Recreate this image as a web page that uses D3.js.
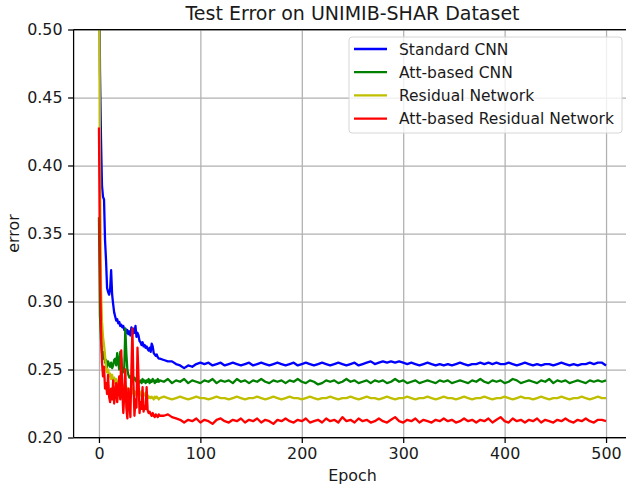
<!DOCTYPE html>
<html lang="en">
<head>
<meta charset="UTF-8">
<title>Test Error on UNIMIB-SHAR Dataset</title>
<script src="https://d3js.org/d3.v7.min.js"></script>
<style>
    body { margin: 0; background: #fff; }
    svg text { font-family: "DejaVu Sans", sans-serif; fill: #1a1a1a; }
    .grid line { stroke: #b0b0b0; stroke-width: 1.25; }
    .grid path { display: none; }
    .axis path, .axis line { stroke: #000; stroke-width: 1.25; }
    .axis text { font-size: 15.9px; }
</style>
</head>
<body>
<div id="chart"></div>
<script>
// epochs: every epoch up to 60, then every 4th epoch
var epochs = d3.range(0, 61).concat(d3.range(64, 501, 4));

var seriesNames = ["Standard CNN", "Att-based CNN", "Residual Network", "Att-based Residual Network"];
var seriesColors = ["#0000ff", "#008000", "#bfbf00", "#ff0000"];

var xTicks = [0, 100, 200, 300, 400, 500];
var yTicks = [0.20, 0.25, 0.30, 0.35, 0.40, 0.45, 0.50];

var standardCnn = [
    0.600, 0.470, 0.420, 0.385, 0.377, 0.375, 0.345, 0.330, 0.310, 0.307,
    0.305, 0.309, 0.323, 0.305, 0.298, 0.292, 0.289, 0.286, 0.287, 0.284,
    0.285, 0.282, 0.283, 0.281, 0.282, 0.279, 0.280, 0.277, 0.279, 0.276,
    0.278, 0.275, 0.281, 0.276, 0.280, 0.277, 0.282, 0.274, 0.277, 0.275,
    0.271, 0.270, 0.268, 0.270, 0.267, 0.268, 0.266, 0.267, 0.265, 0.264,
    0.266, 0.263, 0.269, 0.267, 0.262, 0.261, 0.260, 0.261, 0.259, 0.258,
    0.258,
    0.257, 0.256, 0.256, 0.254, 0.253, 0.251, 0.253, 0.252, 0.254, 0.255,
    0.254, 0.255, 0.253, 0.254, 0.255, 0.253, 0.254, 0.255, 0.254, 0.253,
    0.254, 0.255, 0.253, 0.254, 0.255, 0.254, 0.253, 0.254, 0.255, 0.254,
    0.253, 0.254, 0.255, 0.253, 0.254, 0.255, 0.254, 0.253, 0.254, 0.255,
    0.254, 0.253, 0.254, 0.255, 0.254, 0.253, 0.254, 0.255, 0.253, 0.254,
    0.255, 0.256, 0.254, 0.255, 0.256, 0.255, 0.256, 0.255, 0.256, 0.255,
    0.254, 0.255, 0.254, 0.253, 0.254, 0.255, 0.254, 0.253, 0.254, 0.253,
    0.254, 0.253, 0.254, 0.255, 0.254, 0.253, 0.254, 0.254, 0.255, 0.254,
    0.255, 0.254, 0.255, 0.254, 0.254, 0.255, 0.254, 0.253, 0.254, 0.255,
    0.254, 0.253, 0.254, 0.253, 0.254, 0.254, 0.253, 0.254, 0.255, 0.254,
    0.253, 0.254, 0.253, 0.254, 0.254, 0.255, 0.254, 0.255, 0.255, 0.253
];

var attCnn = [
    0.362, 0.290, 0.272, 0.262, 0.258, 0.263, 0.255, 0.257, 0.252, 0.256,
    0.254, 0.252, 0.255, 0.251, 0.253, 0.257, 0.258, 0.253, 0.262, 0.256,
    0.250, 0.263, 0.258, 0.249, 0.248, 0.252, 0.280, 0.262, 0.250, 0.246,
    0.244, 0.245, 0.243, 0.246, 0.242, 0.244, 0.243, 0.241, 0.242, 0.240,
    0.241, 0.242, 0.240, 0.243, 0.241, 0.242, 0.240, 0.242, 0.241, 0.243,
    0.240, 0.242, 0.241, 0.243, 0.242, 0.240, 0.242, 0.241, 0.243, 0.241,
    0.242,
    0.241, 0.243, 0.240, 0.242, 0.241, 0.243, 0.240, 0.242, 0.241, 0.240,
    0.242, 0.241, 0.243, 0.240, 0.242, 0.241, 0.242, 0.240, 0.243, 0.241,
    0.242, 0.240, 0.242, 0.241, 0.243, 0.241, 0.240, 0.242, 0.241, 0.242,
    0.240, 0.242, 0.241, 0.243, 0.241, 0.240, 0.242, 0.241, 0.239, 0.240,
    0.242, 0.241, 0.242, 0.240, 0.241, 0.243, 0.241, 0.242, 0.240, 0.241,
    0.242, 0.240, 0.242, 0.241, 0.242, 0.240, 0.241, 0.243, 0.241, 0.242,
    0.240, 0.241, 0.242, 0.240, 0.241, 0.242, 0.241, 0.240, 0.242, 0.241,
    0.242, 0.240, 0.241, 0.242, 0.241, 0.240, 0.242, 0.241, 0.243, 0.241,
    0.240, 0.242, 0.241, 0.242, 0.240, 0.241, 0.243, 0.242, 0.240, 0.241,
    0.242, 0.241, 0.240, 0.242, 0.241, 0.243, 0.240, 0.242, 0.241, 0.242,
    0.240, 0.241, 0.242, 0.241, 0.240, 0.242, 0.241, 0.242, 0.241, 0.242
];

var residualNet = [
    0.600, 0.400, 0.310, 0.285, 0.274, 0.268, 0.260, 0.252, 0.248, 0.250,
    0.245, 0.247, 0.243, 0.246, 0.242, 0.244, 0.240, 0.243, 0.239, 0.241,
    0.238, 0.240, 0.237, 0.239, 0.236, 0.238, 0.236, 0.237, 0.235, 0.236,
    0.234, 0.235, 0.233, 0.236, 0.232, 0.234, 0.233, 0.231, 0.235, 0.232,
    0.233, 0.231, 0.234, 0.230, 0.232, 0.231, 0.233, 0.230, 0.231, 0.229,
    0.230, 0.229, 0.230, 0.229, 0.228, 0.230, 0.229, 0.230, 0.229, 0.228,
    0.229,
    0.230, 0.229, 0.228, 0.229, 0.230, 0.229, 0.228, 0.229, 0.230, 0.229,
    0.229, 0.228, 0.229, 0.230, 0.229, 0.229, 0.228, 0.229, 0.230, 0.229,
    0.228, 0.229, 0.229, 0.230, 0.229, 0.228, 0.229, 0.230, 0.229, 0.228,
    0.229, 0.230, 0.229, 0.229, 0.228, 0.229, 0.230, 0.229, 0.228, 0.229,
    0.229, 0.230, 0.229, 0.228, 0.229, 0.229, 0.230, 0.229, 0.228, 0.229,
    0.230, 0.229, 0.229, 0.228, 0.229, 0.230, 0.229, 0.228, 0.229, 0.229,
    0.230, 0.229, 0.228, 0.229, 0.229, 0.230, 0.229, 0.228, 0.229, 0.230,
    0.229, 0.229, 0.228, 0.229, 0.230, 0.229, 0.228, 0.229, 0.229, 0.230,
    0.229, 0.228, 0.229, 0.229, 0.230, 0.229, 0.228, 0.229, 0.230, 0.229,
    0.229, 0.228, 0.229, 0.230, 0.229, 0.228, 0.229, 0.229, 0.230, 0.229,
    0.228, 0.229, 0.229, 0.230, 0.229, 0.228, 0.229, 0.230, 0.229, 0.229
];

var attResidualNet = [
    0.428, 0.330, 0.280, 0.255, 0.245, 0.252, 0.236, 0.240, 0.232, 0.246,
    0.230, 0.226, 0.236, 0.228, 0.242, 0.225, 0.232, 0.240, 0.226, 0.235,
    0.245, 0.228, 0.264, 0.235, 0.218, 0.232, 0.250, 0.222, 0.214, 0.236,
    0.226, 0.215, 0.250, 0.280, 0.240, 0.216, 0.228, 0.222, 0.266, 0.245,
    0.218, 0.226, 0.221, 0.237, 0.219, 0.223, 0.221, 0.237, 0.220, 0.218,
    0.219, 0.217, 0.216, 0.218, 0.216, 0.215, 0.217, 0.216, 0.215, 0.217,
    0.216,
    0.216, 0.217, 0.215, 0.214, 0.213, 0.211, 0.213, 0.212, 0.214, 0.211,
    0.213, 0.212, 0.210, 0.213, 0.214, 0.212, 0.211, 0.213, 0.212, 0.214,
    0.211, 0.213, 0.212, 0.214, 0.211, 0.213, 0.212, 0.210, 0.213, 0.212,
    0.214, 0.212, 0.211, 0.213, 0.212, 0.214, 0.211, 0.212, 0.213, 0.211,
    0.214, 0.212, 0.213, 0.211, 0.215, 0.212, 0.213, 0.211, 0.214, 0.212,
    0.213, 0.211, 0.212, 0.214, 0.212, 0.211, 0.213, 0.215, 0.212, 0.211,
    0.213, 0.212, 0.214, 0.211, 0.213, 0.212, 0.211, 0.213, 0.212, 0.214,
    0.212, 0.213, 0.211, 0.212, 0.214, 0.212, 0.213, 0.211, 0.213, 0.212,
    0.214, 0.211, 0.213, 0.215, 0.212, 0.211, 0.214, 0.212, 0.213, 0.211,
    0.213, 0.212, 0.214, 0.211, 0.213, 0.212, 0.211, 0.213, 0.212, 0.214,
    0.212, 0.211, 0.213, 0.212, 0.214, 0.212, 0.211, 0.213, 0.213, 0.212
];

var allSeries = [standardCnn, attCnn, residualNet, attResidualNet];

// layout
var width = 626, height = 487;
var margin = {top: 29.5, right: -5.4, bottom: 49.5, left: 73.6};
var innerW = width - margin.left - margin.right,
    innerH = height - margin.top - margin.bottom;

var svg = d3.select("#chart")
    .append("svg")
    .attr("width", width)
    .attr("height", height);

var g = svg.append("g")
    .attr("transform", "translate(" + margin.left + "," + margin.top + ")");

var x = d3.scaleLinear().domain([-25, 525]).range([0, innerW]);
var y = d3.scaleLinear().domain([0.20, 0.50]).range([innerH, 0]);

// grid
g.append("g")
    .attr("class", "grid")
    .attr("transform", "translate(0," + innerH + ")")
    .call(d3.axisBottom(x).tickValues(xTicks).tickSize(-innerH).tickFormat(""));
g.append("g")
    .attr("class", "grid")
    .call(d3.axisLeft(y).tickValues(yTicks).tickSize(-innerW).tickFormat(""));

// lines
g.append("clipPath").attr("id", "clip")
    .append("rect").attr("width", innerW).attr("height", innerH);

var line = d3.line()
    .x(function (d, i) { return x(epochs[i]); })
    .y(function (d) { return y(d); });

allSeries.forEach(function (s, k) {
    g.append("path")
        .datum(s)
        .attr("clip-path", "url(#clip)")
        .attr("fill", "none")
        .attr("stroke", seriesColors[k])
        .attr("stroke-width", 2.3)
        .attr("stroke-linejoin", "round")
        .attr("d", line);
});

// axes
var xAxis = g.append("g")
    .attr("class", "axis")
    .attr("transform", "translate(0," + innerH + ")")
    .call(d3.axisBottom(x).tickValues(xTicks).tickSize(5.5).tickPadding(4.5).tickFormat(d3.format("d")));
xAxis.select(".domain").attr("d", "M0,0H" + innerW);

var yAxis = g.append("g")
    .attr("class", "axis")
    .call(d3.axisLeft(y).tickValues(yTicks).tickSize(5.5).tickPadding(5.5).tickFormat(d3.format(".2f")));
yAxis.select(".domain").attr("d", "M0," + innerH + "V0");

g.append("line")
    .attr("x1", 0).attr("x2", innerW)
    .attr("y1", 0).attr("y2", 0)
    .attr("stroke", "#000").attr("stroke-width", 1.25);

// labels
svg.append("text")
    .attr("x", margin.left + innerW / 2)
    .attr("y", 20)
    .attr("text-anchor", "middle")
    .style("font-size", "19px")
    .text("Test Error on UNIMIB-SHAR Dataset");

svg.append("text")
    .attr("x", margin.left + innerW / 2)
    .attr("y", 481)
    .attr("text-anchor", "middle")
    .style("font-size", "15.9px")
    .text("Epoch");

svg.append("text")
    .attr("transform", "translate(18.5," + (margin.top + innerH / 2) + ") rotate(-90)")
    .attr("text-anchor", "middle")
    .style("font-size", "15.9px")
    .text("error");

// legend
var legend = svg.append("g").attr("transform", "translate(349,37)");
legend.append("rect")
    .attr("width", 273).attr("height", 96)
    .attr("rx", 3).attr("ry", 3)
    .attr("fill", "#fff").attr("fill-opacity", 0.8)
    .attr("stroke", "#d6d6d6").attr("stroke-width", 1);

seriesNames.forEach(function (name, k) {
    var row = legend.append("g").attr("transform", "translate(0," + (12 + k * 23.2) + ")");
    row.append("line")
        .attr("x1", 5).attr("x2", 38)
        .attr("stroke", seriesColors[k]).attr("stroke-width", 2.3);
    row.append("text")
        .attr("x", 50).attr("y", 5.5)
        .style("font-size", "15.5px")
        .text(name);
});
</script>
</body>
</html>
